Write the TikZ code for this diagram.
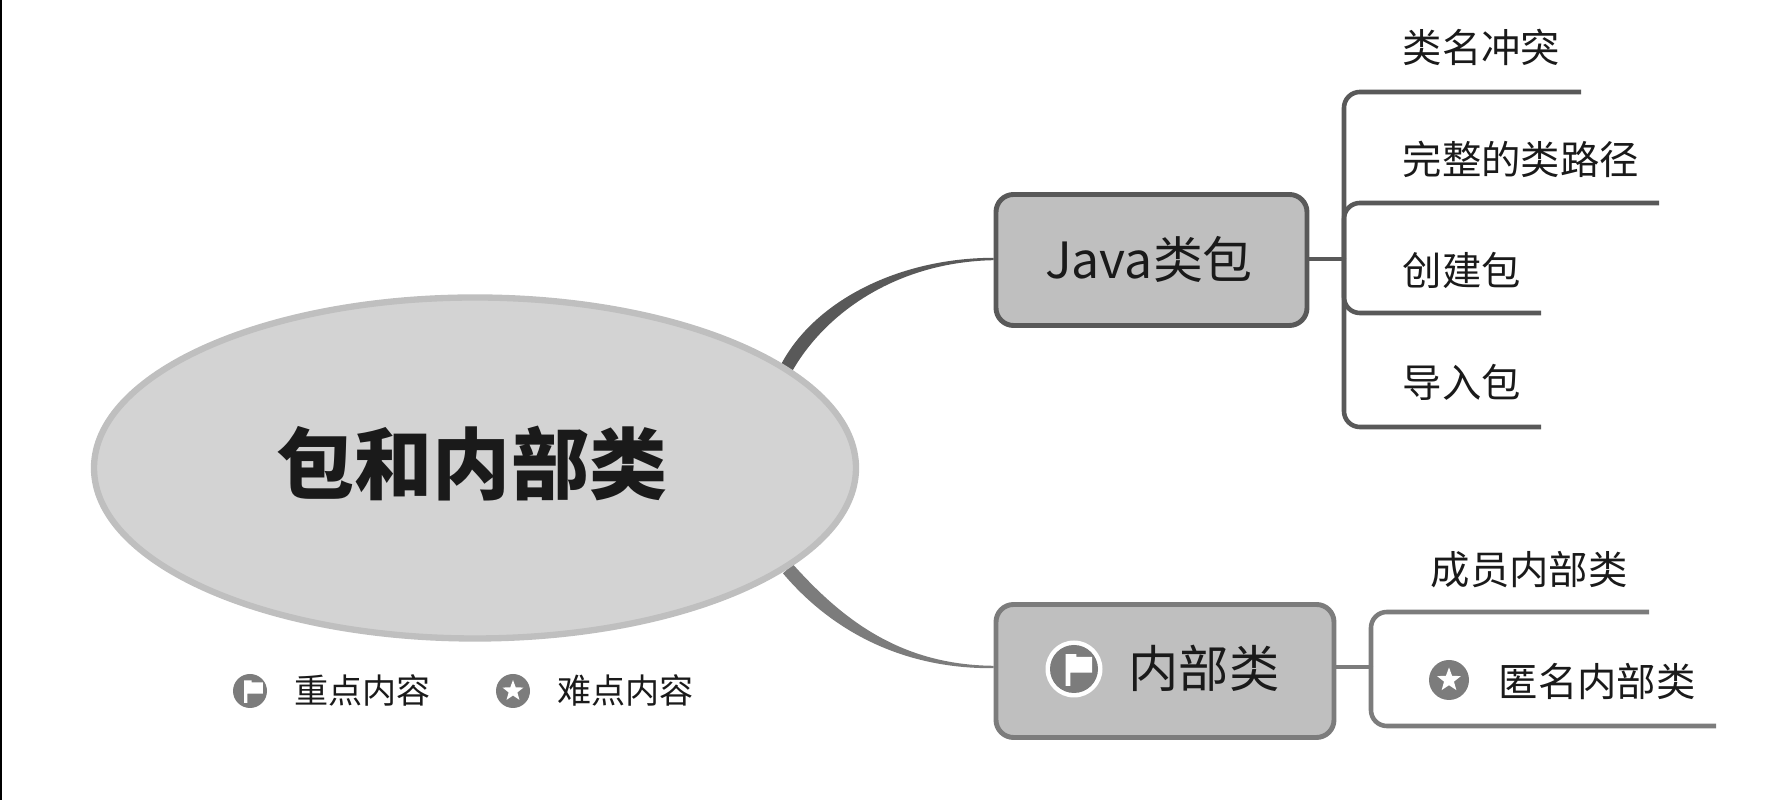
\documentclass[tikz,border=0pt]{standalone}
\usepackage{fontspec}
\setmainfont{Noto Sans CJK SC}
\usepackage{tikz}
\usetikzlibrary{shapes.geometric,backgrounds}
\definecolor{rootfill}{HTML}{D3D3D3}
\definecolor{boxfill}{HTML}{BFBFBF}
\definecolor{darkline}{HTML}{595959}
\definecolor{midline}{HTML}{7C7C7C}
\definecolor{inkcol}{HTML}{1A1A1A}
\tikzset{
    mainbox/.style={draw, rounded corners=5pt, line width=1.4pt, fill=boxfill, text=inkcol, inner sep=0pt},
    leaf/.style={anchor=west, inner sep=0pt, text=inkcol, font=\fontsize{11.2pt}{13pt}\selectfont},
    note/.style={anchor=west, inner sep=0pt, text=inkcol, font=\fontsize{9.7pt}{11pt}\selectfont},
    branch/.style={line width=1.3pt, rounded corners=4.5pt},
    pics/flagicon/.style={code={
        \fill[midline] (0,0) circle (1);
        \fill[white] (-0.35,0.62) -- (0.1,0.62) -- (0.1,0.5) -- (0.75,0.5) -- (0.75,-0.15) -- (-0.15,-0.15) -- (-0.15,-0.7) -- (-0.35,-0.7) -- cycle;
    }},
    staricon/.style={circle, fill=midline, inner sep=0pt},
    starmark/.style={star, star points=5, star point ratio=2.4, fill=white, inner sep=0pt}
}
\begin{document}
\begin{tikzpicture}
    \useasboundingbox (0,0) rectangle (17.83,8);
    \draw[line width=0.3pt, black] (0.01,0) -- (0.01,8);

    % root and the two main boxes
    \node[ellipse, draw=boxfill, fill=rootfill, line width=1.8pt, minimum width=7.62cm, minimum height=3.41cm, inner sep=0pt] (root) at (4.75,3.32) {};
    \node[text=inkcol, font=\fontsize{22.2pt}{26pt}\selectfont\bfseries] (title) at (4.72,3.36) {包和内部类};
    \node[mainbox, draw=darkline, minimum width=3.11cm, minimum height=1.31cm] (java) at (11.515,5.40) {};
    \node[text=inkcol, font=\fontsize{14.2pt}{17pt}\selectfont] (javatext) at (11.49,5.41) {Java类包};
    \node[mainbox, draw=midline, minimum width=3.38cm, minimum height=1.33cm] (inner) at (11.65,1.29) {};
    \node[text=inkcol, anchor=west, inner sep=0pt, font=\fontsize{14.3pt}{17pt}\selectfont] (innertext) at (11.28,1.32) {内部类};

    \coordinate (javabus) at (13.44,5.41);
    \coordinate (innerbus) at (13.71,1.33);

    % tapered curves from the root
    \begin{scope}[on background layer]
        \fill[darkline] ([shift={(-0.06,0.02)}]root.18) .. controls (8.15,5.0) and (9.0,5.42) .. ([yshift=0.012cm]java.west |- javabus) -- ([yshift=-0.012cm]java.west |- javabus) .. controls (9.0,5.38) and (8.27,4.9) .. ([shift={(0.05,-0.05)}]root.18) -- cycle;
        \fill[midline] ([shift={(-0.04,-0.04)}]root.-18) .. controls (8.30,1.71) and (9.0,1.31) .. ([yshift=-0.012cm]inner.west |- innerbus) -- ([yshift=0.012cm]inner.west |- innerbus) .. controls (9.0,1.35) and (8.42,1.81) .. ([shift={(0.06,0.05)}]root.-18) -- cycle;
    \end{scope}

    % Java branch
    \coordinate (endA) at (15.81,7.08);
    \coordinate (endB) at (16.59,5.97);
    \coordinate (endC) at (15.41,4.87);
    \coordinate (endD) at (15.41,3.73);
    \node[leaf] (nameclash) at (14.02,7.53) {类名冲突};
    \node[leaf] (fullpath) at (14.02,6.41) {完整的类路径};
    \node[leaf] (makepkg) at (14.02,5.30) {创建包};
    \node[leaf] (importpkg) at (14.02,4.18) {导入包};
    \draw[branch, darkline] (java.east |- javabus) -- (javabus);
    \draw[branch, darkline] (javabus) |- (endA);
    \draw[branch, darkline] (javabus) |- (endB);
    \draw[branch, darkline] (javabus) |- (endC);
    \draw[branch, darkline] (javabus) |- (endD);

    % inner class branch
    \coordinate (endE) at (16.49,1.88);
    \coordinate (endF) at (17.16,0.74);
    \node[leaf] (member) at (14.30,2.30) {成员内部类};
    \node[leaf] (anon) at (14.98,1.18) {匿名内部类};
    \draw[branch, midline] (inner.east |- innerbus) -- (innerbus);
    \draw[branch, midline] (innerbus) |- (endE);
    \draw[branch, midline] (innerbus) |- (endF);

    % icons and legend
    \fill[white] (10.74,1.31) circle (0.285);
    \pic[scale=0.24] (flagbig) at (10.74,1.31) {flagicon};
    \node[staricon, minimum size=0.40cm] (staranon) at (14.49,1.20) {};
    \node[starmark, minimum size=0.25cm] (staranonmark) at (staranon) {};
    \pic[scale=0.17] (flagnote) at (2.50,1.09) {flagicon};
    \node[note] (notekey) at (2.94,1.10) {重点内容};
    \node[staricon, minimum size=0.34cm] (starnote) at (5.13,1.09) {};
    \node[starmark, minimum size=0.22cm] (starnotemark) at (starnote) {};
    \node[note] (notehard) at (5.57,1.10) {难点内容};
\end{tikzpicture}
\end{document}
